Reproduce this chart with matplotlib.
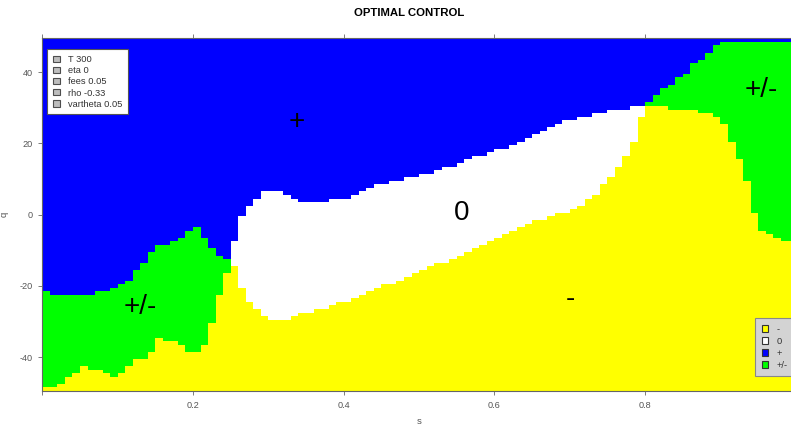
import numpy as np
import matplotlib
matplotlib.use("Agg")
import matplotlib.pyplot as plt
from matplotlib.colors import ListedColormap, BoundaryNorm
from matplotlib.patches import Patch

plt.rcParams['font.family'] = ['Liberation Sans', 'DejaVu Sans']

# ---- data -------------------------------------------------------------
# s grid (cell centres) and q grid (cell centres)
s_values = np.round(np.arange(100) * 0.01 + 0.005, 3)
q_values = np.arange(-49, 50)

# upper edge of the yellow "-" region for each s column
yellow_top = [-48.5, -48.5, -47.0, -45.5, -44.0, -42.5, -43.4, -43.4, -44.3, -45.2,
              -44.3, -42.0, -40.5, -40.0, -38.0, -34.3, -35.4, -35.4, -36.3, -38.2,
              -38.5, -36.3, -30.0, -22.0, -16.0, -14.5, -20.0, -24.0, -26.8, -28.5,
              -29.4, -29.4, -29.4, -28.5, -27.5, -27.5, -26.6, -26.4, -25.4, -24.5,
              -24.5, -23.6, -22.4, -21.5, -20.3, -19.4, -19.4, -18.4, -17.2, -16.3,
              -15.4, -14.4, -13.5, -13.5, -12.3, -11.4, -10.5, -9.5, -8.4, -7.4,
              -6.5, -5.5, -4.4, -3.5, -2.4, -1.4, -1.4, -0.5, 0.6, 0.6,
              1.7, 2.6, 4.7, 5.6, 8.7, 10.8, 13.3, 16.6, 20.6, 27.7,
              30.7, 30.7, 30.7, 29.7, 29.7, 29.7, 29.7, 28.8, 28.8, 27.9,
              25.5, 20.6, 15.5, 9.1, 0.3, -4.4, -5.4, -6.3, -7.3, -7.3]

# lower edge of the blue "+" region for each s column
blue_bottom = [-21.5, -22.3, -22.3, -22.3, -22.3, -22.3, -22.3, -21.5, -21.5, -20.3,
               -19.4, -18.4, -16.0, -13.3, -11.0, -8.6, -8.6, -7.5, -6.3, -4.4,
               -4.0, -7.0, -9.5, -11.2, -12.3, -7.5, -0.5, 2.8, 4.8, 6.7,
               6.7, 6.7, 5.6, 4.7, 3.7, 3.7, 3.7, 3.7, 4.7, 4.7,
               4.7, 5.6, 6.8, 7.7, 8.7, 8.7, 9.7, 9.7, 10.6, 10.8,
               11.7, 11.7, 12.6, 13.5, 13.5, 14.5, 15.5, 16.5, 16.5, 17.6,
               18.5, 18.7, 19.6, 20.6, 21.5, 22.6, 23.6, 24.6, 25.5, 26.6,
               26.6, 27.7, 27.7, 28.6, 28.6, 29.7, 29.7, 29.7, 30.6, 30.6,
               31.5, 33.5, 35.4, 36.7, 38.5, 39.5, 42.4, 43.3, 45.4, 47.3,
               48.5, 48.5, 48.5, 48.5, 48.5, 48.5, 48.5, 48.5, 48.5, 48.5]

# between yellow and blue: "+/-" (green) outside this s range, "0" (white) inside
white_s_range = (0.2535, 0.804)

categories = ["-", "0", "+", "+/-"]
category_colors = ["#FFFF00", "#FFFFFF", "#0000FF", "#00FF00"]

param_labels = ["T 300", "eta 0", "fees 0.05", "rho -0.33", "vartheta 0.05"]

region_text = ["+", "0", "-", "+/-", "+/-"]
region_s = [0.338, 0.556, 0.701, 0.130, 0.954]
region_q = [25.9, 0.4, -23.7, -26.0, 35.1]

# ---- build category grid ----------------------------------------------
S = np.asarray(s_values)
Q = np.asarray(q_values, dtype=float)
Yt = np.asarray(yellow_top)
Bb = np.asarray(blue_bottom)
middle = np.where((S > white_s_range[0]) & (S < white_s_range[1]), 1, 3)
grid = np.where(Q[:, None] < Yt[None, :], 0,
                np.where(Q[:, None] > Bb[None, :], 2, middle[None, :]))

s_edges = np.concatenate([S - 0.005, [S[-1] + 0.005]])
q_edges = np.concatenate([Q - 0.5, [Q[-1] + 0.5]])

# ---- figure -----------------------------------------------------------
W, H = 791, 425
fig = plt.figure(figsize=(W / 100, H / 100), dpi=100)
ax = fig.add_axes([42.3 / W, 34 / H, 753.5 / W, 352.7 / H])

cmap = ListedColormap(category_colors)
norm = BoundaryNorm([-0.5, 0.5, 1.5, 2.5, 3.5], cmap.N)
ax.pcolormesh(s_edges, q_edges, grid, cmap=cmap, norm=norm,
              shading="flat", antialiased=False, edgecolors="none")

ax.set_xlim(0, 1.0)
ax.set_ylim(-49.5, 49.5)

for t, xs, yq in zip(region_text, region_s, region_q):
    ax.text(xs, yq, t, fontsize=20, color="black", ha="center", va="center")

axis_grey = "#666666"
for sp in ax.spines.values():
    sp.set_color(axis_grey)
    sp.set_linewidth(0.8)

ax.set_xticks([0, 0.2, 0.4, 0.6, 0.8])
ax.set_xticklabels(["", "0.2", "0.4", "0.6", "0.8"])
ax.set_yticks([-40, -20, 0, 20, 40])
ax.set_yticklabels(["-40", "-20", "0", "20", "40"])
ax.tick_params(axis="both", direction="out", length=2.8, width=0.6,
               color=axis_grey, labelcolor="#555555", labelsize=6.6,
               top=True, right=True, labeltop=False, labelright=False)
ax.tick_params(axis="x", pad=4.5)
ax.tick_params(axis="y", pad=4)

ax.set_xlabel("s", fontsize=6.8, color="#555555", labelpad=5)
ax.set_ylabel("q", fontsize=6.8, color="#555555", labelpad=8)

fig.text(408.7 / W, 1 - 12.5 / H, "OPTIMAL CONTROL", ha="center", va="center",
         fontsize=8.2, fontweight="bold", color="black")

# parameter legend (top left)
param_handles = [Patch(facecolor="#bdbdbd", edgecolor="#4d4d4d", linewidth=0.8)
                 for _ in param_labels]
leg1 = ax.legend(param_handles, param_labels, loc="upper left",
                 bbox_to_anchor=(47.3 / W, 1 - 49.3 / H),
                 bbox_transform=fig.transFigure, fontsize=6.7,
                 handlelength=0.75, handleheight=0.65, handletextpad=0.85,
                 labelspacing=0.24, borderpad=0.6, borderaxespad=0,
                 fancybox=False, framealpha=1, labelcolor="#333333")
leg1.get_frame().set_edgecolor("#555555")
leg1.get_frame().set_linewidth(0.8)
ax.add_artist(leg1)

# category legend (bottom right)
cat_handles = [Patch(facecolor=c, edgecolor="#333333", linewidth=0.8)
               for c in category_colors]
leg2 = ax.legend(cat_handles, categories, loc="upper left",
                 bbox_to_anchor=(755 / W, 1 - 318.3 / H),
                 bbox_transform=fig.transFigure, fontsize=6.7,
                 handlelength=0.75, handleheight=0.65, handletextpad=0.9,
                 labelspacing=0.32, borderpad=0.7, borderaxespad=0,
                 fancybox=False, framealpha=1, labelcolor="#333333")
leg2.get_frame().set_facecolor("#d3d3d3")
leg2.get_frame().set_edgecolor("#888888")
leg2.get_frame().set_linewidth(0.8)

fig.savefig("out.png", dpi=100)
